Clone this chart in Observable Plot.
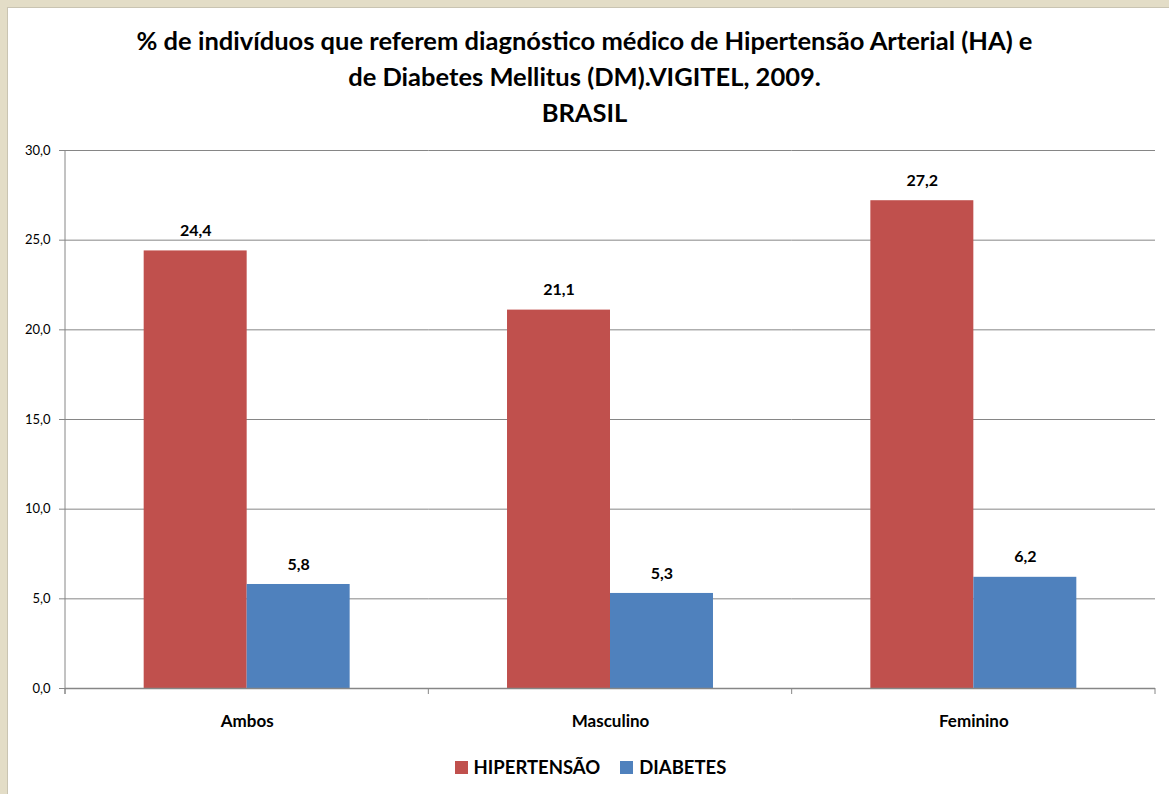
<!DOCTYPE html>
<html>
<head>
<meta charset="utf-8">
<script src="https://cdn.jsdelivr.net/npm/d3@7"></script>
<script src="https://cdn.jsdelivr.net/npm/@observablehq/plot@0.6"></script>
<style>
  html, body { margin: 0; padding: 0; }
  body { width: 1169px; height: 794px; background: #E3DDC7; position: relative; overflow: hidden; font-family: Lato, "Open Sans", sans-serif; }
  #panel { position: absolute; left: 7px; top: 7px; width: 1170px; height: 800px; background: #fff; border-left: 1px solid #c9c4b2; border-top: 1px solid #c9c4b2; }
  #title { position: absolute; left: 0; top: 0; width: 1169px; text-align: center; font-weight: 700; font-size: 25.5px; line-height: 36px; padding-top: 22px; color: #000; }
  #chart { position: absolute; left: 0; top: 132px; }
  #legend { position: absolute; left: 0; top: 756px; width: 1169px; display: flex; justify-content: center; align-items: center; font-weight: 700; font-size: 18.5px; color: #000; padding-left: 12px; box-sizing: border-box; }
  #legend .item { display: flex; align-items: center; margin: 0 10px; }
  #legend .sw { width: 13px; height: 13px; margin-right: 6px; }
</style>
</head>
<body>
<div id="panel"></div>
<div id="title">% de indivíduos que referem diagnóstico médico de Hipertensão Arterial (HA) e<br>de Diabetes Mellitus (DM).VIGITEL, 2009.<br>BRASIL</div>
<div id="chart"></div>
<div id="legend"></div>
<script>
const categories = ["Ambos", "Masculino", "Feminino"];
const series = ["HIPERTENSÃO", "DIABETES"];
const hipertensao = [24.4, 21.1, 27.2];
const diabetes = [5.8, 5.3, 6.2];
const yTicks = [0, 5, 10, 15, 20, 25, 30];
const colors = ["#C0504D", "#4F81BD"];

const data = categories.flatMap((c, i) => [
  {cat: c, s: series[0], v: hipertensao[i]},
  {cat: c, s: series[1], v: diabetes[i]}
]);
const fmt = d => d.toFixed(1).replace(".", ",");
const gray = "#868686";

const plot = Plot.plot({
  width: 1169,
  height: 608,
  marginLeft: 65,
  marginRight: 14,
  marginTop: 18,
  marginBottom: 52,
  style: {fontFamily: "Lato, 'Open Sans', sans-serif", background: "transparent", overflow: "visible"},
  fx: {domain: categories, padding: 0, label: null, round: false},
  x: {domain: series, paddingInner: 0, paddingOuter: 0.764, axis: null, round: false},
  y: {domain: [0, 30], label: null},
  color: {domain: series, range: colors},
  marks: [
    Plot.gridY(yTicks, {stroke: gray, strokeOpacity: 1, strokeWidth: 1}),
    Plot.barY(data, {fx: "cat", x: "s", y: "v", fill: "s"}),
    Plot.text(data, {fx: "cat", x: "s", y: "v", text: d => fmt(d.v), dy: -20, fontWeight: "bold", fontSize: 16, fill: "#000"}),
    Plot.ruleY([0], {stroke: gray, strokeWidth: 1.5}),
    Plot.axisY(yTicks, {tickFormat: fmt, tickSize: 6, tickPadding: 9, fontSize: 13, stroke: gray, fill: "#000", label: null}),
    Plot.axisFx({anchor: "bottom", tickSize: 0, tickPadding: 26, fontWeight: "bold", fontSize: 17, fill: "#000", label: null})
  ]
});

// axis line and category boundary ticks from the library's scales
const fx = plot.scale("fx");
const y = plot.scale("y");
const svg = d3.select(plot);
const y0 = y.apply(0);
const bounds = categories.map(c => fx.apply(c)).concat([fx.apply(categories[categories.length - 1]) + fx.bandwidth]);
const g = svg.append("g").attr("stroke", gray).attr("stroke-width", 1);
g.append("line").attr("x1", bounds[0]).attr("x2", bounds[0]).attr("y1", y.apply(30)).attr("y2", y0 + 6);
bounds.forEach(b => g.append("line").attr("x1", b).attr("x2", b).attr("y1", y0).attr("y2", y0 + 6));

document.getElementById("chart").appendChild(plot);

const legend = d3.select("#legend");
series.forEach((s, i) => {
  const it = legend.append("div").attr("class", "item");
  it.append("div").attr("class", "sw").style("background", colors[i]);
  it.append("span").text(s);
});
</script>
</body>
</html>
